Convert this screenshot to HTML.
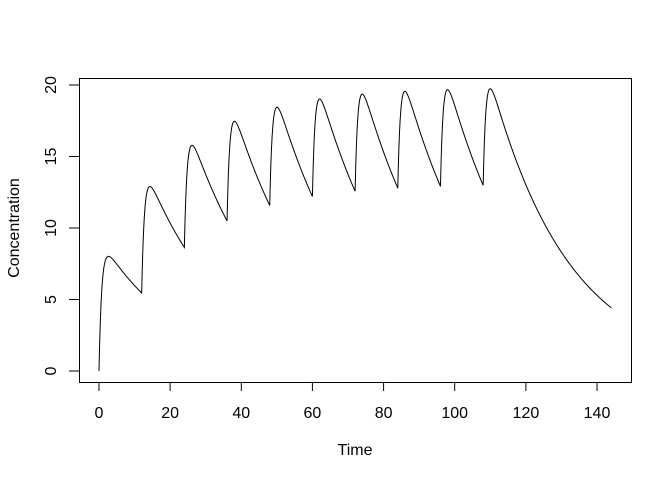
<!DOCTYPE html>
<html><head><meta charset="utf-8"><style>
html,body{margin:0;padding:0;background:#fff}
svg{display:block}
text{font-family:"Liberation Sans",sans-serif;font-size:16px;fill:#000}
</style></head><body>
<svg id="s" width="672" height="480" xmlns="http://www.w3.org/2000/svg">
<rect x="79.5" y="78.5" width="552" height="304" fill="none" stroke="#000" stroke-width="1"/>
<g stroke="#000" stroke-width="1" fill="none">
<line x1="99" y1="382.5" x2="597" y2="382.5"/>
<line x1="99" y1="382" x2="99" y2="391"/>
<line x1="170.1" y1="382" x2="170.1" y2="391"/>
<line x1="241.3" y1="382" x2="241.3" y2="391"/>
<line x1="312.4" y1="382" x2="312.4" y2="391"/>
<line x1="383.6" y1="382" x2="383.6" y2="391"/>
<line x1="454.7" y1="382" x2="454.7" y2="391"/>
<line x1="525.9" y1="382" x2="525.9" y2="391"/>
<line x1="597" y1="382" x2="597" y2="391"/>
<line x1="69" y1="371" x2="79" y2="371"/>
<line x1="69" y1="299.5" x2="79" y2="299.5"/>
<line x1="69" y1="228" x2="79" y2="228"/>
<line x1="69" y1="156.5" x2="79" y2="156.5"/>
<line x1="69" y1="85" x2="79" y2="85"/>
</g>
<g text-anchor="middle">
<text x="99" y="418">0</text><text x="170.1" y="418">20</text><text x="241.3" y="418">40</text>
<text x="312.4" y="418">60</text><text x="383.6" y="418">80</text><text x="454.7" y="418">100</text>
<text x="525.9" y="418">120</text><text x="597" y="418">140</text>
<text transform="translate(56,371) rotate(-90)">0</text>
<text transform="translate(56,299.5) rotate(-90)">5</text>
<text transform="translate(56,228) rotate(-90)">10</text>
<text transform="translate(56,156.5) rotate(-90)">15</text>
<text transform="translate(56,85) rotate(-90)">20</text>
<text x="355" y="455">Time</text>
<text transform="translate(19,228) rotate(-90)">Concentration</text>
</g>
<polyline id="p" fill="none" stroke="#000" stroke-width="1"/>
</svg>
<script>
var k=0.045,ka=1.3,A=9.37,pts=[];
for(var i=0;i<=1440;i++){var t=i/10,c=0;
for(var d=0;d<10;d++){var td=d*12;if(t>=td){var u=t-td;c+=A*(Math.exp(-k*u)-Math.exp(-ka*u));}}
pts.push((99+t*3.557).toFixed(2)+","+(371-c*14.3).toFixed(2));}
document.getElementById("p").setAttribute("points",pts.join(" "));
</script>
</body></html>
